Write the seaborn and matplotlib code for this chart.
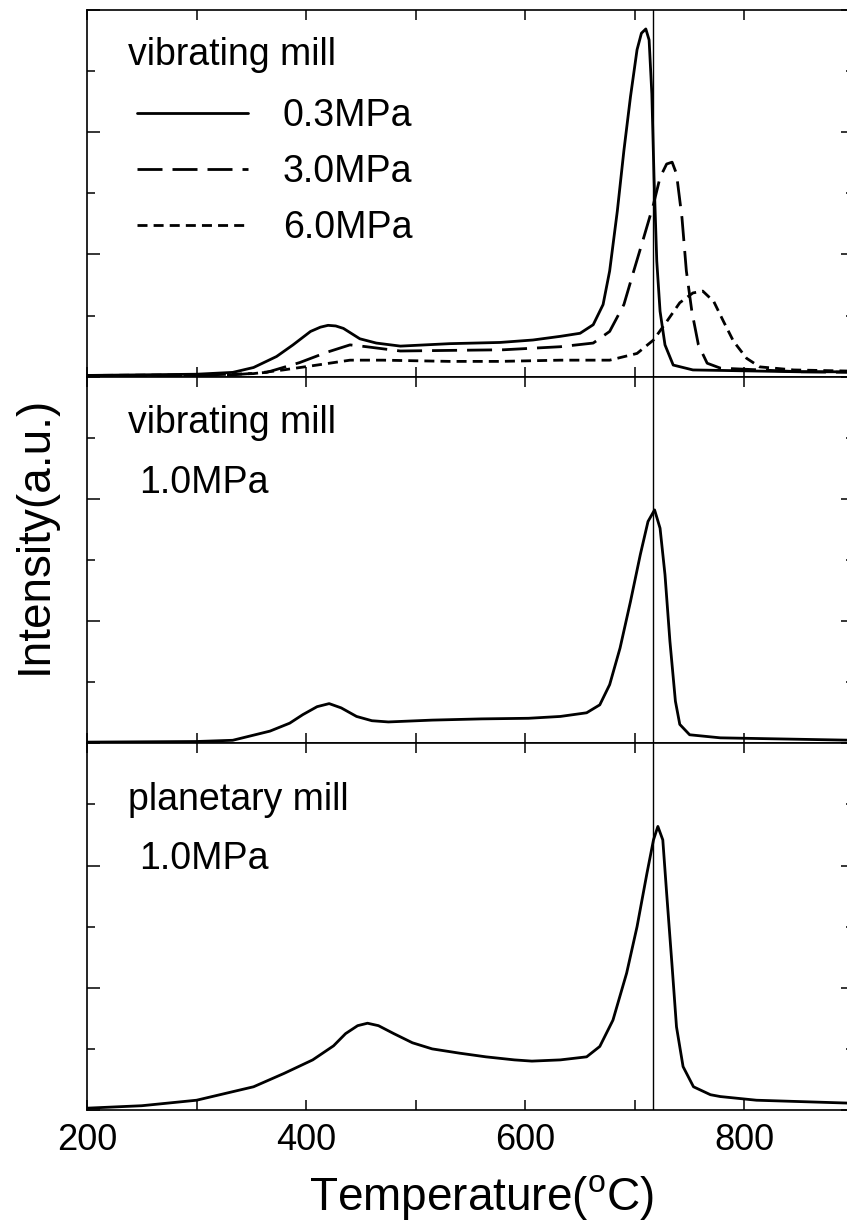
import matplotlib
matplotlib.use("Agg")
import matplotlib.pyplot as plt
import seaborn as sns
from matplotlib.ticker import FixedLocator, MultipleLocator

# ---------------- data ----------------
temp_03 = [200, 250, 300, 333, 352, 373, 388, 404, 413, 420, 427, 434, 449, 464, 486, 531,
           577, 607, 632, 650, 662, 671, 677, 684, 690, 696, 702, 706, 710, 713, 715.5,
           717.5, 720, 723, 727.5, 735, 753, 850, 900]
int_03 = [0.02, 0.03, 0.04, 0.07, 0.15, 0.33, 0.52, 0.74, 0.81, 0.84, 0.83, 0.79, 0.62, 0.55,
          0.50, 0.54, 0.56, 0.60, 0.66, 0.71, 0.85, 1.18, 1.73, 2.71, 3.70, 4.58, 5.35, 5.62,
          5.69, 5.51, 4.63, 3.26, 1.89, 1.07, 0.52, 0.19, 0.11, 0.08, 0.08]

temp_30 = [200, 300, 333, 364, 394, 419, 440, 455, 486, 531, 580, 632, 662, 677, 690, 699,
           708, 717, 723, 729, 734, 738, 743, 747, 752, 758, 766, 778, 851, 900]
int_30 = [0.02, 0.02, 0.03, 0.07, 0.23, 0.40, 0.52, 0.49, 0.42, 0.43, 0.44, 0.49, 0.55, 0.74,
          1.18, 1.73, 2.27, 2.82, 3.26, 3.48, 3.51, 3.32, 2.60, 1.73, 1.07, 0.52, 0.22, 0.14,
          0.08, 0.07]

temp_60 = [200, 312, 352, 379, 410, 440, 470, 531, 577, 632, 677, 702, 717, 729, 741, 753,
           762, 772, 781, 790, 802, 814, 845, 900]
int_60 = [0.02, 0.03, 0.05, 0.11, 0.19, 0.27, 0.27, 0.25, 0.25, 0.27, 0.27, 0.38, 0.60, 0.90,
          1.21, 1.37, 1.40, 1.23, 0.90, 0.58, 0.30, 0.16, 0.11, 0.09]

temp_vib10 = [200, 300, 333, 367, 385, 397, 410, 421, 432, 446, 460, 475, 515, 560, 603, 632,
              656, 668, 677, 686.5, 696, 705, 712, 718, 723, 727.5, 732, 737, 741, 750, 778,
              900]
int_vib10 = [0.02, 0.03, 0.05, 0.20, 0.33, 0.47, 0.60, 0.65, 0.58, 0.44, 0.37, 0.35, 0.38,
             0.40, 0.41, 0.44, 0.50, 0.63, 0.96, 1.56, 2.32, 3.09, 3.63, 3.82, 3.52, 2.76,
             1.67, 0.69, 0.31, 0.14, 0.09, 0.05]

temp_pla10 = [200, 250, 300, 352, 380, 406, 425, 436, 447, 456, 466, 480, 497, 515, 540, 564,
              590, 606, 632, 656, 668, 680, 692.5, 702, 711, 717, 721, 725.5, 729, 734, 738,
              744, 753.5, 769, 778, 811, 900]
int_pla10 = [0.03, 0.07, 0.16, 0.38, 0.60, 0.82, 1.05, 1.25, 1.38, 1.42, 1.38, 1.25, 1.10,
             1.00, 0.93, 0.87, 0.82, 0.80, 0.82, 0.87, 1.04, 1.47, 2.24, 3.00, 3.87, 4.42,
             4.64, 4.42, 3.55, 2.35, 1.36, 0.71, 0.38, 0.25, 0.22, 0.16, 0.11]

pressure_labels = ["0.3MPa", "3.0MPa", "6.0MPa"]
panel_titles = ["vibrating mill", "vibrating mill", "planetary mill"]
panel_sublabels = [None, "1.0MPa", "1.0MPa"]
x_ticks = [200, 400, 600, 800]
ref_temp = 717

# ---------------- style ----------------
sns.set_style("ticks")
plt.rcParams.update({
    "font.family": ["Liberation Sans", "DejaVu Sans"],
    "mathtext.fontset": "custom",
    "mathtext.rm": "Liberation Sans",
    "axes.linewidth": 1.2,
    "axes.edgecolor": "black",
    "text.color": "black",
    "axes.labelcolor": "black",
    "xtick.color": "black",
    "ytick.color": "black",
})

W, H = 847, 1224
fig = plt.figure(figsize=(W / 100, H / 100), dpi=100)
left_px, right_px, top_px, bot_px = 87, 854, 10, 1110
panel_h = (bot_px - top_px) / 3
axes = []
for i in range(3):
    y_top = top_px + i * panel_h
    rect = [left_px / W, 1 - (y_top + panel_h) / H, (right_px - left_px) / W, panel_h / H]
    axes.append(fig.add_axes(rect))

lw = 2.0
series = [
    (temp_03, int_03, "-"),
    (temp_30, int_30, (0, (9, 3.6))),
    (temp_60, int_60, (0, (3.6, 2.2))),
]

ax = axes[0]
for (t, v, ls), lab in zip(series, pressure_labels):
    sns.lineplot(x=t, y=v, ax=ax, color="black", linewidth=lw, linestyle=ls, label=lab)
sns.lineplot(x=temp_vib10, y=int_vib10, ax=axes[1], color="black", linewidth=lw)
sns.lineplot(x=temp_pla10, y=int_pla10, ax=axes[2], color="black", linewidth=lw)

for i, ax in enumerate(axes):
    ax.axvline(ref_temp, color="black", linewidth=1.0, zorder=1)
    ax.set_xlim(200, 900)
    ax.set_ylim(0, 6)
    ax.xaxis.set_major_locator(FixedLocator(x_ticks))
    ax.xaxis.set_minor_locator(MultipleLocator(100))
    ax.yaxis.set_major_locator(MultipleLocator(2))
    ax.yaxis.set_minor_locator(MultipleLocator(1))
    ax.tick_params(which="both", direction="in", top=True, right=True, labelleft=False,
                   labelbottom=(i == 2), width=1.1, labelsize=26, pad=9)
    ax.tick_params(axis="x", which="both", length=7.5)
    ax.tick_params(axis="y", which="major", length=9.4)
    ax.tick_params(axis="y", which="minor", length=5.8)
    ax.set_xlabel("")
    ax.set_ylabel("")
    for s in ax.spines.values():
        s.set_linewidth(1.2)

# panel annotations
title_y = [0.85, 0.8464, 0.818]
sub_y = [None, 0.6827, 0.657]
for ax, ttl, sub, ty, sy in zip(axes, panel_titles, panel_sublabels, title_y, sub_y):
    ax.text((128 - left_px) / (right_px - left_px), ty, ttl, transform=ax.transAxes,
            fontsize=27, va="baseline", ha="left")
    if sub:
        ax.text((139 - left_px) / (right_px - left_px), sy, sub, transform=ax.transAxes,
                fontsize=27, va="baseline", ha="left")

leg = axes[0].legend(loc="upper left",
                     bbox_to_anchor=((137 - left_px) / (right_px - left_px), 0.760),
                     frameon=False, fontsize=27, handlelength=2.96, handletextpad=0.93,
                     labelspacing=0.54, borderaxespad=0, borderpad=0)

fig.text(35 / W, 1 - 535 / H, "Intensity(a.u.)", rotation=90, ha="center", va="center",
         fontsize=33)
fig.text(481 / W, 1 - 1210 / H, "Temperature($^{\\mathrm{o}}$C)", ha="center",
         va="baseline", fontsize=33)

fig.savefig("out.png", dpi=100)
